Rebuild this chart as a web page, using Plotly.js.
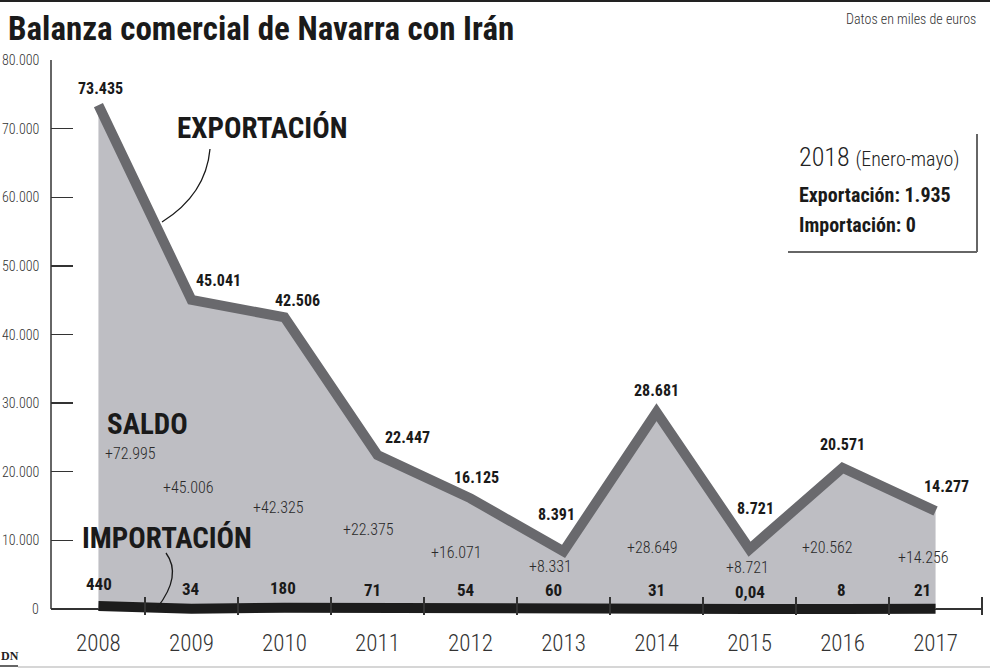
<!DOCTYPE html>
<html>
<head>
<meta charset="utf-8">
<script src="https://cdn.plot.ly/plotly-3.0.1.min.js"></script>
<style>html,body{margin:0;padding:0;background:#fff;}#chart{width:990px;height:669px;}</style>
</head>
<body>
<div id="chart"></div>
<script>
// ---- data ----
const years = [2008, 2009, 2010, 2011, 2012, 2013, 2014, 2015, 2016, 2017];
const yearLabels = ['2008', '2009', '2010', '2011', '2012', '2013', '2014', '2015', '2016', '2017'];
const exportacion = [73435, 45041, 42506, 22447, 16125, 8391, 28681, 8721, 20571, 14277];
const importacion = [440, 34, 180, 71, 54, 60, 31, 0.04, 8, 21];
const saldo = [72995, 45006, 42325, 22375, 16071, 8331, 28649, 8721, 20562, 14256];
const yTickVals = [0, 10000, 20000, 30000, 40000, 50000, 60000, 70000, 80000];
const yTickText = ['0', '10.000', '20.000', '30.000', '40.000', '50.000', '60.000', '70.000', '80.000'];
const midTicks = [2008.5, 2009.5, 2010.5, 2011.5, 2012.5, 2013.5, 2014.5, 2015.5, 2016.5, 2017.5];
const box2018 = {year: '2018', period: '(Enero-mayo)', exp: 1935, imp: 0};

// ---- layout / style config ----
const NARROW = '"Roboto Condensed", "DejaVu Sans Condensed", sans-serif';
const W = 990, H = 669;
const M = {l: 51, r: 7, t: 60, b: 54};
const PW = W - M.l - M.r, PH = H - M.t - M.b;
const px = x => (x - M.l) / PW;
const py = y => (H - M.b - y) / PH;
const fmt = v => v.toLocaleString('de-DE');
const yMin = -874; // small room below zero so the thick import line is not clipped

const expShift = [[2,17],[27,19],[13,17],[30,17],[6,21],[-7,37],[0,22],[6,41],[0,23],[11,25]];
const salShift = [[32,156],[-3,122],[-6,102],[-9,80],[-14,57],[-13,43],[-4,62],[-2,42],[-15,62],[-12,52]];
const impShift = [[1,25],[0,20],[-1,21],[-5,19],[-4,19],[-10,19],[0,19],[0,17],[-1,19],[-13,19]];

const traces = [
  {x: years, y: exportacion, type: 'scatter', mode: 'lines', fill: 'tozeroy', fillcolor: '#bebec3',
   line: {color: '#69696d', width: 10}, hoverinfo: 'skip'},
  {x: years, y: importacion, type: 'scatter', mode: 'lines',
   line: {color: '#1c1c1c', width: 10}, hoverinfo: 'skip'}
];

const ann = [];
yTickVals.forEach((v, i) => ann.push({x: px(41), y: v, xref: 'paper', yref: 'y', text: yTickText[i],
  showarrow: false, xanchor: 'right', yanchor: 'middle',
  font: {family: NARROW, size: 14, color: '#333', weight: 300}}));

years.forEach((yr, i) => {
  ann.push({x: yr, y: exportacion[i], xref: 'x', yref: 'y', text: fmt(exportacion[i]),
    showarrow: false, xanchor: 'center', yanchor: 'middle',
    xshift: expShift[i][0], yshift: expShift[i][1],
    font: {family: NARROW, size: 16, color: '#1a1a1a', weight: 'bold'}});
  ann.push({x: yr, y: 0, xref: 'x', yref: 'y', text: '+' + fmt(saldo[i]),
    showarrow: false, xanchor: 'center', yanchor: 'middle',
    xshift: salShift[i][0], yshift: salShift[i][1],
    font: {family: NARROW, size: 16, color: '#2a2a2a', weight: 300}});
  ann.push({x: yr, y: 0, xref: 'x', yref: 'y', text: fmt(importacion[i]),
    showarrow: false, xanchor: 'center', yanchor: 'middle',
    xshift: impShift[i][0], yshift: impShift[i][1],
    font: {family: NARROW, size: 17, color: '#1a1a1a', weight: 'bold'}});
});

const big = (text, x, y) => ({x: px(x), y: py(y), xref: 'paper', yref: 'paper', text,
  showarrow: false, xanchor: 'center', yanchor: 'middle',
  font: {family: NARROW, size: 29, color: '#1a1a1a', weight: 'bold'}});
ann.push(big('EXPORTACIÓN', 262, 128));
ann.push(big('SALDO', 147, 424));
ann.push(big('IMPORTACIÓN', 167, 538));

ann.push({x: px(978), y: py(19), xref: 'paper', yref: 'paper', text: 'Datos en miles de euros',
  showarrow: false, xanchor: 'right', yanchor: 'middle', font: {family: NARROW, size: 14, color: '#333', weight: 300}});
ann.push({x: px(797), y: py(157), xref: 'paper', yref: 'paper',
  text: box2018.year + ' <span style="font-size:20px">' + box2018.period + '</span>',
  showarrow: false, xanchor: 'left', yanchor: 'middle', font: {family: NARROW, size: 26, color: '#222', weight: 300}});
ann.push({x: px(797), y: py(195), xref: 'paper', yref: 'paper', text: 'Exportación: ' + fmt(box2018.exp),
  showarrow: false, xanchor: 'left', yanchor: 'middle', font: {family: NARROW, size: 20, color: '#1a1a1a', weight: 'bold'}});
ann.push({x: px(797), y: py(225), xref: 'paper', yref: 'paper', text: 'Importación: ' + fmt(box2018.imp),
  showarrow: false, xanchor: 'left', yanchor: 'middle', font: {family: NARROW, size: 20, color: '#1a1a1a', weight: 'bold'}});
ann.push({x: px(10), y: py(656), xref: 'paper', yref: 'paper', text: 'DN',
  showarrow: false, xanchor: 'center', yanchor: 'middle',
  font: {family: '"Liberation Serif", "DejaVu Serif", serif', size: 12, color: '#222', weight: 'bold'}});

const line = (x0, y0, x1, y1, color, width) => ({type: 'line', xref: 'paper', yref: 'paper',
  x0: px(x0), y0: py(y0), x1: px(x1), y1: py(y1), line: {color, width}});
const qpath = (a, c, b) => ({type: 'path', xref: 'paper', yref: 'paper',
  path: `M ${px(a[0])},${py(a[1])} Q ${px(c[0])},${py(c[1])} ${px(b[0])},${py(b[1])}`,
  line: {color: '#1a1a1a', width: 1.3}});

const shapes = [
  {type: 'line', xref: 'paper', yref: 'y', x0: 0, x1: 0,
   y0: yTickVals[0], y1: yTickVals[yTickVals.length - 1], line: {color: '#333', width: 1.5}, layer: 'below'},
  line(0, 1, 990, 1, '#222', 2),
  line(977, 134, 977, 252, '#666', 2),
  line(788, 252, 977, 252, '#666', 2),
  line(18, 667, 990, 667, '#c8c8c8', 1.5),
  line(0, 666, 18, 666, '#666', 2),
  qpath([210, 149], [206, 194.5], [162, 222]),
  qpath([166, 553], [182.5, 575.5], [157, 608])
];

const layout = {
  width: W, height: H, margin: M,
  paper_bgcolor: '#fff', plot_bgcolor: 'rgba(0,0,0,0)',
  showlegend: false, hovermode: false,
  title: {text: 'Balanza comercial de Navarra con Irán', x: 8 / W, xanchor: 'left',
    xref: 'container', yref: 'container', y: 1 - 28 / H, yanchor: 'middle',
    font: {family: NARROW, size: 33, color: '#1a1a1a', weight: 'bold'}},
  xaxis: {
    range: [2007.49, 2017.51], tickvals: years, ticktext: yearLabels,
    ticks: '', showgrid: false, zeroline: false, showline: false,
    tickfont: {family: NARROW, size: 23, color: '#333', weight: 300},
    ticklabelstandoff: 12,
    minor: {tickvals: midTicks, ticks: 'inside', ticklen: 18, tickcolor: '#333', tickwidth: 1.3},
    fixedrange: true
  },
  yaxis: {
    range: [yMin, 80000], tickvals: yTickVals, showticklabels: false,
    ticks: 'inside', ticklen: 22, tickcolor: '#333', tickwidth: 1.3,
    showgrid: false, showline: false,
    zeroline: true, zerolinecolor: '#333', zerolinewidth: 1.5,
    fixedrange: true
  },
  annotations: ann, shapes: shapes
};

Plotly.newPlot('chart', traces, layout, {displayModeBar: false, staticPlot: true});
</script>
</body>
</html>
